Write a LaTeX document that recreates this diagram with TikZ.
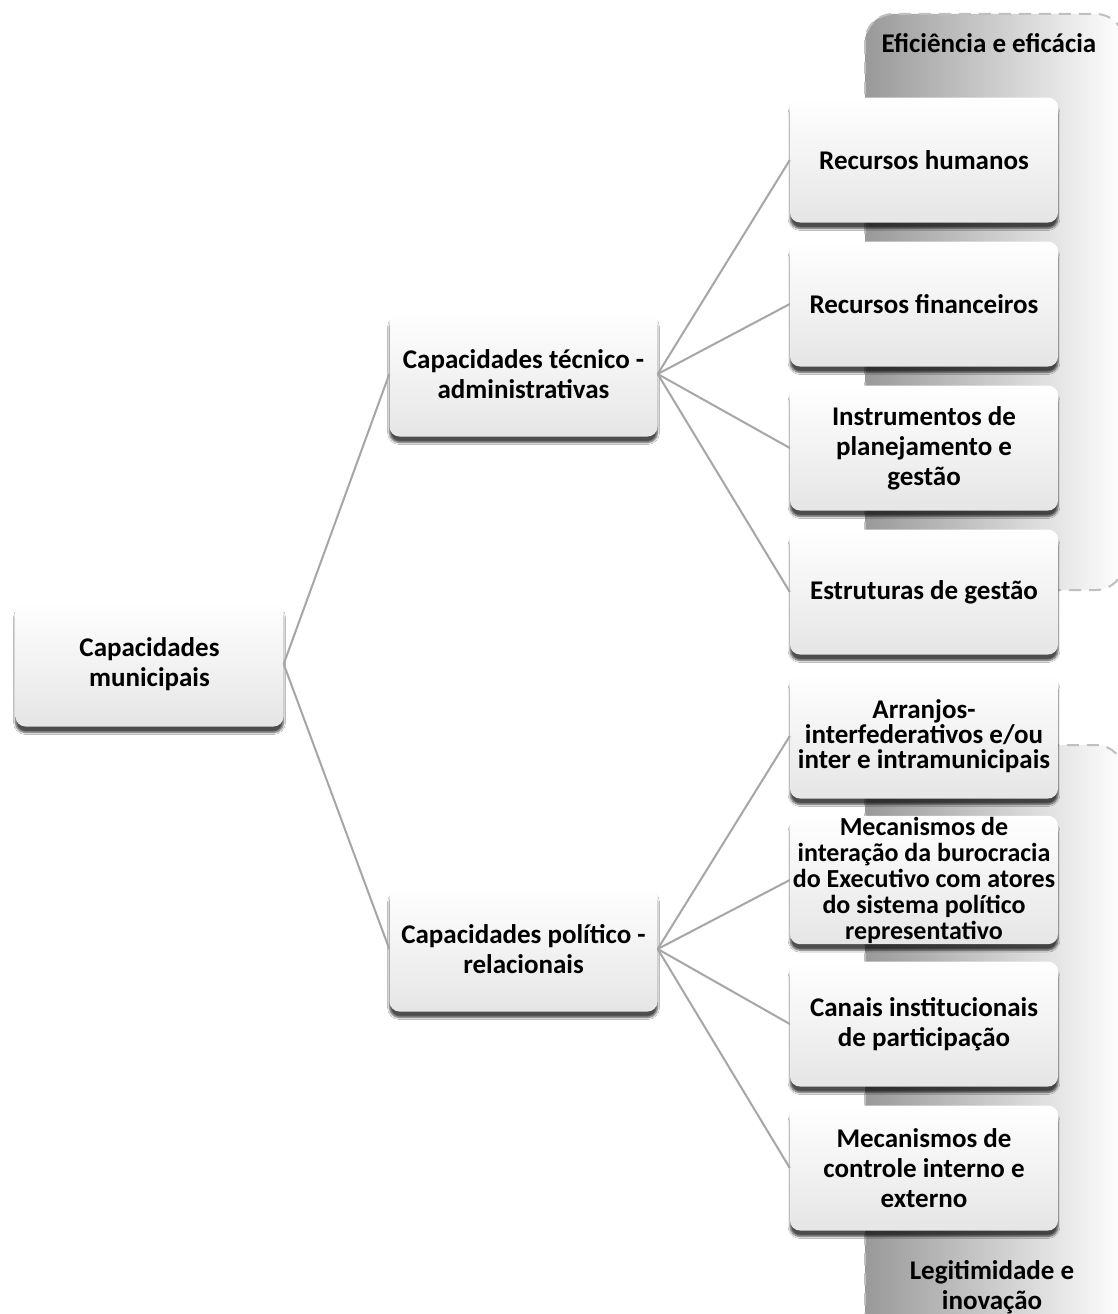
\documentclass[tikz,border=0pt]{standalone}
\usepackage{fontspec}
\setmainfont{Carlito}
\usetikzlibrary{shadows.blur}
\tikzset{
  box/.style={rounded corners=10pt, minimum width=268pt, minimum height=125pt,
    top color=white, bottom color=black!10, align=center, inner sep=1pt,
    font=\bfseries\fontsize{27}{30}\selectfont, text=black,
    blur shadow={shadow xshift=0pt, shadow yshift=-6pt, shadow blur steps=6, shadow opacity=70}},
  link/.style={draw=black!35, line width=2pt},
  panel/.style={draw=black!25, line width=2pt, dash pattern=on 12pt off 8pt,
    rounded corners=28pt, left color=black!40, right color=white},
  paneltext/.style={font=\bfseries\fontsize{27}{30}\selectfont, align=center, text=black}
}
\begin{document}
\begin{tikzpicture}[x=1pt,y=-1pt]
\useasboundingbox (0,0) rectangle (1118,1314);
\fill[white] (0,0) rectangle (1118,1314);
\begin{scope}
\clip (0,0) rectangle (1118,1314);
\draw[panel] (865,14) rectangle (1124,590);
\draw[panel] (865,745) rectangle (1124,1345);
\end{scope}
\node[paneltext] (eff) at (989,43) {Eficiência e eficácia};
\node[paneltext] (leg) at (992,1287) {Legitimidade e\\inovação};

\node[box] (mun) at (149.5,664) {Capacidades\\municipais};
\node[box] (tec) at (523.5,374) {Capacidades técnico -\\administrativas};
\node[box] (pol) at (523.5,949) {Capacidades político -\\relacionais};

\node[box] (rh) at (924,160) {Recursos humanos};
\node[box] (rf) at (924,304) {Recursos financeiros};
\node[box] (ip) at (924,448) {Instrumentos de\\planejamento e\\gestão};
\node[box] (eg) at (924,592) {Estruturas de gestão};
\node[box, font=\bfseries\fontsize{27}{25}\selectfont] (ar) at (924,736) {Arranjos-\\interfederativos e/ou\\inter e intramunicipais};
\node[box, font=\bfseries\fontsize{26}{26}\selectfont] (mi) at (924,880) {Mecanismos de\\interação da burocracia\\do Executivo com atores\\do sistema político\\representativo};
\node[box] (ci) at (924,1024) {Canais institucionais\\de participação};
\node[box] (mc) at (924,1168) {Mecanismos de\\controle interno e\\externo};

\draw[link] (mun.east) -- (tec.west);
\draw[link] (mun.east) -- (pol.west);
\foreach \t in {rh,rf,ip,eg} \draw[link] (tec.east) -- (\t.west);
\foreach \t in {ar,mi,ci,mc} \draw[link] (pol.east) -- (\t.west);
\end{tikzpicture}
\end{document}
